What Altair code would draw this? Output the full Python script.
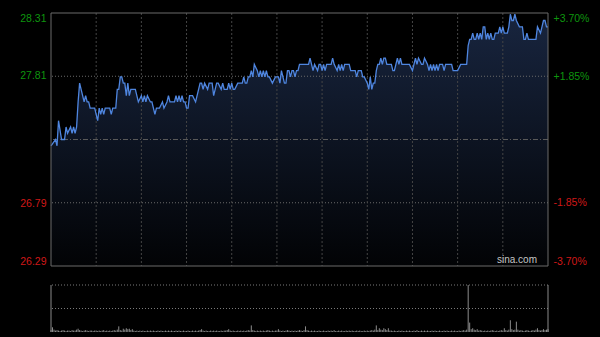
import altair as alt
import pandas as pd

# ---- data ----
minutes = [0, 3, 4, 5, 7, 9, 10, 11, 13, 14, 15, 16, 17, 18, 19, 21, 22, 23, 24, 25, 26, 28, 29, 30,
           31, 32, 33, 34, 35, 36, 39, 40, 41, 43, 44, 45, 46, 47, 48, 49, 50, 51, 52, 53, 56, 58,
           60, 61, 62, 63, 64, 66, 67, 68, 69, 70, 72, 74, 75, 77, 78, 79, 82, 83, 84, 85, 86, 87,
           88, 89, 90, 91, 92, 94, 96, 97, 98, 99, 100, 101, 102, 104, 105, 107, 108, 109, 110, 111,
           113, 114, 115, 117, 118, 119, 120, 121, 122, 124, 127, 128, 129, 130, 131, 132, 133, 134,
           135, 137, 138, 139, 140, 141, 142, 143, 144, 145, 147, 149, 151, 152, 153, 154, 155, 156,
           157, 158, 159, 160, 161, 162, 163, 164, 165, 170, 171, 172, 173, 174, 175, 177, 178, 179,
           180, 181, 182, 183, 184, 185, 186, 187, 188, 190, 191, 192, 193, 194, 195, 198, 199, 202,
           203, 204, 206, 207, 208, 210, 211, 212, 213, 214, 215, 216, 217, 218, 219, 220, 221, 222,
           223, 226, 227, 228, 229, 230, 231, 232, 233, 236, 238, 240, 241, 242, 243, 244, 246, 247,
           248, 250, 251, 252, 253, 254, 255, 256, 257, 258, 260, 261, 262, 263, 266, 267, 270, 272,
           275, 276, 277, 278, 279, 280, 281, 282, 283, 284, 285, 286, 287, 288, 289, 290, 291, 292,
           293, 294, 295, 297, 298, 299, 300, 301, 303, 304, 305, 306, 307, 308, 309, 311, 313, 314,
           315, 316, 317, 320, 322, 323, 325, 326, 327, 328, 329, 330]
prices = [27.25, 27.30, 27.25, 27.45, 27.30, 27.30, 27.40, 27.35, 27.40, 27.35, 27.40, 27.35, 27.40,
          27.60, 27.75, 27.65, 27.60, 27.65, 27.60, 27.60, 27.55, 27.55, 27.55, 27.50,
          27.45, 27.55, 27.50, 27.55, 27.50, 27.55, 27.55, 27.50, 27.55, 27.55, 27.70, 27.70,
          27.80, 27.80, 27.75, 27.75, 27.65, 27.75, 27.65, 27.70, 27.70, 27.60,
          27.65, 27.60, 27.65, 27.60, 27.65, 27.60, 27.60, 27.55, 27.50, 27.55, 27.55, 27.60,
          27.55, 27.60, 27.65, 27.60, 27.60, 27.65, 27.60, 27.65, 27.60, 27.65,
          27.60, 27.60, 27.55, 27.55, 27.65, 27.65, 27.60, 27.65, 27.70, 27.75, 27.75, 27.70,
          27.75, 27.70, 27.75, 27.75, 27.65, 27.70, 27.75, 27.75,
          27.70, 27.75, 27.70, 27.70, 27.75, 27.70, 27.75, 27.70, 27.70, 27.75, 27.75, 27.80,
          27.75, 27.75, 27.80, 27.80, 27.85, 27.80,
          27.90, 27.85, 27.80, 27.85, 27.80, 27.85, 27.80, 27.85, 27.80, 27.80, 27.75, 27.80,
          27.80, 27.75, 27.85, 27.80, 27.75, 27.75,
          27.85, 27.85, 27.80, 27.85, 27.85, 27.80, 27.85, 27.85, 27.90, 27.90, 27.90, 27.95,
          27.90, 27.85, 27.90, 27.85, 27.90, 27.90,
          27.85, 27.90, 27.85, 27.90, 27.90, 27.90, 27.90, 27.95, 27.90, 27.85, 27.90, 27.85,
          27.90, 27.85, 27.90, 27.90, 27.85, 27.85,
          27.80, 27.85, 27.85, 27.80, 27.80, 27.75, 27.70, 27.80, 27.70, 27.75, 27.75, 27.85,
          27.90, 27.90, 27.95, 27.90, 27.95, 27.95,
          27.90, 27.90, 27.85, 27.85, 27.90, 27.95, 27.90, 27.95, 27.90, 27.90, 27.90, 27.85,
          27.90, 27.95, 27.90, 27.95, 27.90, 27.90,
          27.95, 27.90, 27.85, 27.90, 27.85, 27.90, 27.85, 27.90, 27.85, 27.90, 27.90, 27.85,
          27.90, 27.90, 27.90, 27.85, 27.85, 27.90,
          27.90, 27.90, 28.05, 28.10, 28.10, 28.15, 28.10, 28.10, 28.15, 28.10, 28.15, 28.10,
          28.20, 28.20, 28.10, 28.15, 28.10, 28.15,
          28.10, 28.10, 28.15, 28.15, 28.20, 28.15, 28.20, 28.15, 28.15, 28.20, 28.30, 28.25,
          28.25, 28.30, 28.25, 28.20, 28.20, 28.10,
          28.10, 28.15, 28.10, 28.10, 28.10, 28.20, 28.15, 28.20, 28.25, 28.25, 28.20, 28.20]

volume = [4, 10, 5, 3, 4, 3, 2, 3, 4, 3, 2, 3, 3, 2, 4, 3, 3, 5, 7, 4, 3, 2, 3, 4, 3, 2, 3, 3, 2, 3,
          3, 2, 3, 2, 3, 4, 2, 3, 2, 3, 2, 3, 4, 3, 5, 12, 4, 3, 7, 5, 8, 6, 7, 4, 6, 3, 2, 3, 2, 3,
          2, 3, 2, 2, 3, 2, 3, 2, 3, 2, 2, 3, 2, 3, 2, 2, 3, 2, 3, 2, 3, 2, 2, 3, 2, 3, 2, 2, 3, 2,
          2, 3, 2, 2, 3, 2, 3, 2, 3, 4, 6, 3, 2, 3, 2, 2, 3, 2, 3, 2, 3, 2, 2, 3, 2, 3, 3, 4, 6, 3,
          2, 3, 2, 2, 3, 2, 3, 2, 3, 2, 3, 4, 3, 14, 4, 3, 2, 3, 2, 3, 2, 3, 2, 3, 4, 3, 2, 3, 2, 3,
          3, 6, 3, 2, 3, 2, 3, 4, 3, 2, 3, 2, 3, 2, 3, 4, 3, 2, 4, 12, 4, 3, 2, 3, 2, 3, 2, 2, 3, 2,
          2, 3, 2, 2, 3, 2, 3, 2, 4, 2, 2, 3, 2, 3, 2, 2, 3, 2, 3, 2, 3, 2, 2, 3, 2, 3, 2, 2, 3, 2,
          3, 2, 3, 4, 3, 5, 14, 4, 8, 5, 4, 8, 6, 4, 8, 3, 3, 2, 3, 2, 2, 3, 2, 3, 2, 2, 3, 2, 3, 2,
          2, 3, 2, 4, 2, 2, 3, 2, 3, 2, 3, 2, 2, 3, 2, 3, 2, 2, 3, 2, 2, 3, 2, 3, 2, 2, 3, 2, 3, 2,
          2, 3, 2, 3, 4, 3, 5, 100, 20, 6, 8, 5, 4, 6, 3, 4, 3, 2, 3, 2, 3, 2, 3, 4, 3, 2, 3, 2, 3, 4,
          3, 8, 4, 3, 5, 25, 6, 4, 5, 22, 5, 3, 4, 3, 2, 3, 4, 3, 2, 3, 4, 3, 5, 8, 4, 3, 4, 6, 4, 5,
          6]
vol_minutes = list(range(len(volume)))

left_ticks = [28.31, 27.81, 26.79, 26.29]
right_ticks = [3.70, 1.85, -1.85, -3.70]
prev_close = 27.30
grid_minutes = [30, 60, 90, 120, 150, 180, 210, 240, 270, 300]
vol_grid = [100, 50]
watermark = ["sina.com"]

GREEN = "#0e950e"
RED = "#d01818"
FONT = "Liberation Sans"

price_df = pd.DataFrame({"m": minutes, "p": prices})
vol_df = pd.DataFrame({"m": vol_minutes, "v": volume})
vgrid_df = pd.DataFrame({"m": grid_minutes})
pct_df = pd.DataFrame({"pct": [1.85, -1.85]})
zero_df = pd.DataFrame({"pct": [0.0]})
vgl_df = pd.DataFrame({"v": vol_grid})
edge_df = pd.DataFrame({"m": [0, 330]})
one_df = pd.DataFrame({"a": [0]})
wm_df = pd.DataFrame({"t": watermark, "m": [330], "p": [26.29]})

xs = alt.Scale(domain=[0, 330], nice=False, zero=False)
X = alt.X("m:Q", scale=xs, axis=None)
py = alt.Scale(domain=[26.29, 28.31], range=[253, 0], nice=False, zero=False)
pcs = alt.Scale(domain=[-3.70, 3.70], range=[253, 0], nice=False, zero=False)
vy = alt.Scale(domain=[0, 100], range=[319, 272], nice=False, zero=False)

left_axis = alt.Axis(values=left_ticks, orient="left", labelFlush=True, ticks=False,
                     domain=False, grid=False, labelPadding=5, labelFont=FONT,
                     labelFontSize=10.5, title=None, format=".2f",
                     labelColor={"expr": f"datum.value > {prev_close} ? '{GREEN}' : '{RED}'"})
right_axis = alt.Axis(values=right_ticks, orient="right", labelFlush=True, ticks=False,
                      domain=False, grid=False, labelPadding=5, labelFont=FONT,
                      labelFontSize=10.5, title=None,
                      labelExpr="(datum.value > 0 ? '+' : '-') + format(abs(datum.value), '.2f') + '%'",
                      labelColor={"expr": f"datum.value > 0 ? '{GREEN}' : '{RED}'"})

grad = alt.Gradient(gradient="linear",
                    stops=[alt.GradientStop(color="#18253f", offset=0),
                           alt.GradientStop(color="#020305", offset=1)],
                    x1=1, x2=1, y1=0, y2=1)

area = alt.Chart(price_df).mark_area(color=grad, interpolate="linear").encode(
    x=X, y=alt.Y("p:Q", scale=py, axis=left_axis), y2=alt.Y2Datum(26.29))

hgrid = alt.Chart(pct_df).mark_rule(color="#6a6a6a", strokeDash=[1, 2], strokeWidth=1).encode(
    y=alt.Y("pct:Q", scale=pcs, axis=right_axis))
zline = alt.Chart(zero_df).mark_rule(color="#5a5a5a", strokeDash=[5, 2, 1, 2], strokeWidth=1).encode(
    y=alt.Y("pct:Q", scale=pcs))
pct_layer = alt.layer(hgrid, zline)

vgrid = alt.Chart(vgrid_df).mark_rule(color="#454545", strokeDash=[2, 2], strokeWidth=1).encode(
    x=X, y=alt.YDatum(28.31, scale=py, axis=None), y2=alt.Y2Datum(26.29))
line = alt.Chart(price_df).mark_line(color="#4f86e0", strokeWidth=1.3).encode(
    x=X, y=alt.Y("p:Q", scale=py, axis=None))
border = alt.Chart(one_df).mark_rect(fillOpacity=0, stroke="#6a6a6a", strokeWidth=1).encode(
    x=alt.XDatum(0, scale=xs, axis=None), x2=alt.X2Datum(330),
    y=alt.YDatum(28.31, scale=py, axis=None), y2=alt.Y2Datum(26.29))
wm = alt.Chart(wm_df).mark_text(align="right", baseline="bottom", dx=-11, dy=-1,
                               color="#c4c4c4", fontSize=10, font=FONT).encode(
    x=X, y=alt.Y("p:Q", scale=py, axis=None), text="t:N")
price_top = alt.layer(vgrid, line, border, wm)

vbars = alt.Chart(vol_df).mark_rule(color="#8c8c8c", strokeWidth=1).encode(
    x=X, y=alt.Y("v:Q", scale=vy, axis=None), y2=alt.Y2Datum(0))
vgl = alt.Chart(vgl_df).mark_rule(color="#7a7a7a", strokeDash=[1, 2], strokeWidth=1).encode(
    y=alt.Y("v:Q", scale=vy, axis=None))
vedge = alt.Chart(edge_df).mark_rule(color="#8a8a8a", strokeWidth=1).encode(
    x=X, y=alt.YDatum(100, scale=vy, axis=None), y2=alt.Y2Datum(0))
vol_layer = alt.layer(vgl, vbars, vedge)

chart = alt.layer(area, pct_layer, price_top, vol_layer).resolve_scale(
    y="independent"
).properties(
    width=497, height=319,
    padding={"left": 51, "top": 13, "right": 52, "bottom": 5},
    autosize=alt.AutoSizeParams(type="none"),
    background="#000000",
).configure_view(stroke=None)

chart.save("out.html", embed_options={"renderer": "svg", "actions": False})
